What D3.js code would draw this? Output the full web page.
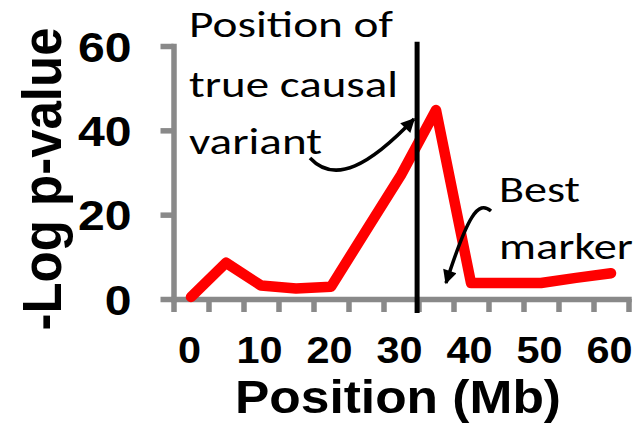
<!DOCTYPE html>
<html>
<head>
<meta charset="utf-8">
<script src="https://cdn.jsdelivr.net/npm/d3@7"></script>
<style>
  body { margin: 0; background: #fff; }
  svg { display: block; }
</style>
</head>
<body>
<svg id="chart"></svg>
<script>
// values
const positions = [0, 5, 10, 15, 20, 25, 30, 35, 40, 45, 50, 55, 60];
const logP = [0.5, 8.6, 3.2, 2.5, 2.9, 16.2, 29.4, 44.8, 3.8, 3.8, 3.8, 5.0, 6.1];
const yTicks = [0, 20, 40, 60];
const xTickLabels = [0, 10, 20, 30, 40, 50, 60];
const categoryBounds = [-2.5, 2.5, 7.5, 12.5, 17.5, 22.5, 27.5, 32.5, 37.5, 42.5, 47.5, 52.5, 57.5, 62.5];
const causalPosition = 32.3;

const width = 640;
const height = 427;
const stretch = 1.12; // the original picture is a bit wider than tall
const grey = "#898989";

const svg = d3.select("#chart")
  .attr("width", width)
  .attr("height", height);

const x = d3.scaleLinear().domain([-2.5, 62.5]).range([173.5, 628.5]);
const y = d3.scaleLinear().domain([0, 60]).range([299, 46]);

// y axis
const yAxis = svg.append("g")
  .attr("transform", `translate(${x(-2.5)},0)`)
  .call(d3.axisLeft(y).tickValues(yTicks).tickSize(13).tickSizeOuter(0));

// x axis tick marks at category boundaries
const xAxis = svg.append("g")
  .attr("transform", `translate(0,${y(0)})`)
  .call(d3.axisBottom(x).tickValues(categoryBounds).tickSize(13).tickSizeOuter(0).tickFormat(""));

[yAxis, xAxis].forEach(g => {
  g.select(".domain").attr("stroke", grey).attr("stroke-width", 5.5).attr("stroke-linecap", "square");
  g.selectAll(".tick line").attr("stroke", grey).attr("stroke-width", 5.5);
});

yAxis.selectAll(".tick text")
  .attr("x", -42 / stretch)
  .attr("dy", "0.35em")
  .attr("transform", `scale(${stretch},1)`)
  .attr("fill", "#000")
  .style("font-family", "'Liberation Sans', Arial, sans-serif")
  .style("font-weight", "bold")
  .style("font-size", "43px");

// x labels, every other category
const xLabels = svg.append("g")
  .attr("transform", `translate(0,${y(0)})`)
  .call(d3.axisBottom(x).tickValues(xTickLabels).tickSize(0));
xLabels.select(".domain").remove();
xLabels.selectAll(".tick text")
  .attr("x", -2 / stretch)
  .attr("y", 64)
  .attr("dy", 0)
  .attr("transform", `scale(${stretch},1)`)
  .attr("fill", "#000")
  .style("font-family", "'Liberation Sans', Arial, sans-serif")
  .style("font-weight", "bold")
  .style("font-size", "37px");

// data line
const points = positions.map((p, i) => ({ pos: p, v: logP[i] }));
svg.append("path")
  .datum(points)
  .attr("fill", "none")
  .attr("stroke", "#ff0000")
  .attr("stroke-width", 10.5)
  .attr("stroke-linejoin", "round")
  .attr("stroke-linecap", "round")
  .attr("d", d3.line().x(d => x(d.pos)).y(d => y(d.v)));

// true causal variant position
svg.append("line")
  .attr("x1", x(causalPosition)).attr("x2", x(causalPosition))
  .attr("y1", y(61)).attr("y2", y(-3.3))
  .attr("stroke", "#000")
  .attr("stroke-width", 5);

// arrows
svg.append("defs").append("marker")
  .attr("id", "head")
  .attr("markerUnits", "userSpaceOnUse")
  .attr("viewBox", "0 0 10 10")
  .attr("refX", 9).attr("refY", 5)
  .attr("markerWidth", 16).attr("markerHeight", 14)
  .attr("orient", "auto")
  .append("path")
  .attr("d", "M0,0L10,5L0,10z")
  .attr("fill", "#000");

svg.append("path")
  .attr("d", "M310,158 C335,185 370,165 414,119")
  .attr("fill", "none").attr("stroke", "#000").attr("stroke-width", 3.5)
  .attr("marker-end", "url(#head)");

svg.append("path")
  .attr("d", "M491,211 C478,200 468,215 446,283")
  .attr("fill", "none").attr("stroke", "#000").attr("stroke-width", 3.5)
  .attr("marker-end", "url(#head)");

// annotation text
const note = (txt, tx, ty, len) => svg.append("text")
  .attr("x", tx).attr("y", ty)
  .attr("textLength", len).attr("lengthAdjust", "spacingAndGlyphs")
  .style("font-family", "Carlito, Calibri, Lato, sans-serif")
  .style("font-size", "37px")
  .attr("fill", "#000")
  .text(txt);

note("Position of", 189, 37, 204);
note("true causal", 189, 97, 209);
note("variant", 189, 154, 133);
note("Best", 499, 202, 81);
note("marker", 499, 259, 134);

// axis titles
svg.append("text")
  .attr("x", 398).attr("y", 413)
  .attr("text-anchor", "middle")
  .attr("textLength", 326).attr("lengthAdjust", "spacingAndGlyphs")
  .style("font-family", "'Liberation Sans', Arial, sans-serif")
  .style("font-weight", "bold")
  .style("font-size", "46px")
  .text("Position (Mb)");

svg.append("text")
  .attr("transform", `translate(61,179) scale(${stretch},1) rotate(-90)`)
  .attr("text-anchor", "middle")
  .attr("textLength", 303).attr("lengthAdjust", "spacingAndGlyphs")
  .style("font-family", "'Liberation Sans', Arial, sans-serif")
  .style("font-weight", "bold")
  .style("font-size", "50px")
  .text("-Log p-value");
</script>
</body>
</html>
